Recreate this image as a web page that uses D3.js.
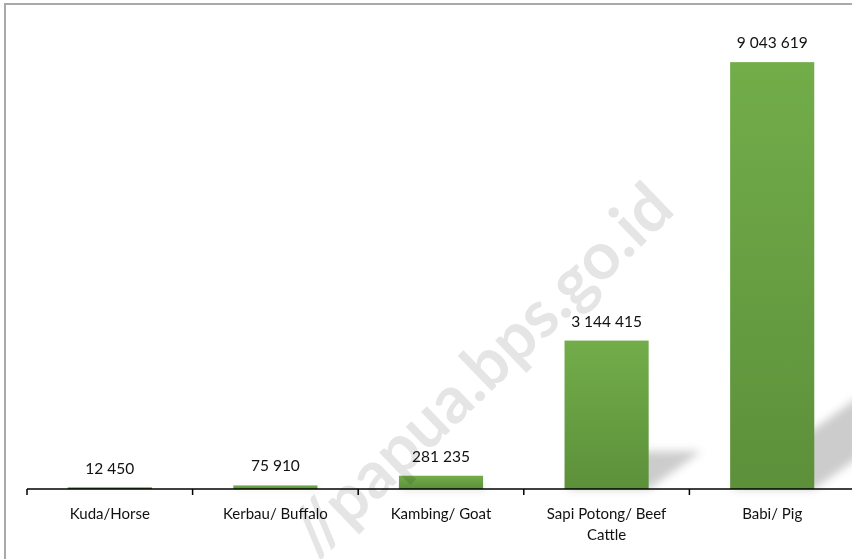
<!DOCTYPE html>
<html>
<head>
<meta charset="utf-8">
<script src="https://cdn.jsdelivr.net/npm/d3@7"></script>
<style>
  html, body { margin: 0; padding: 0; background: #fff; }
  svg { display: block; }
  text { font-family: Lato, "Open Sans", sans-serif; }
</style>
</head>
<body>
<svg id="chart" width="852" height="559"></svg>
<script>
// data
const categories = ['Kuda/Horse', 'Kerbau/ Buffalo', 'Kambing/ Goat', 'Sapi Potong/ Beef Cattle', 'Babi/ Pig']
const values = [12450, 75910, 281235, 3144415, 9043619]
const yMax = 10000000

const width = 852,
  height = 559,
  margin = {left: 27, right: -3, top: 17, bottom: 70}

const svg = d3.select('#chart')
const defs = svg.append('defs')

// bar fill, lighter at the top
const grad = defs.append('linearGradient')
  .attr('id', 'barFill')
  .attr('x1', 0).attr('y1', 0).attr('x2', 0).attr('y2', 1)
grad.append('stop').attr('offset', '0%').attr('stop-color', '#72ad4a')
grad.append('stop').attr('offset', '100%').attr('stop-color', '#5c903a')

defs.append('filter')
  .attr('id', 'soft')
  .attr('x', '-50%').attr('y', '-50%').attr('width', '200%').attr('height', '200%')
  .append('feGaussianBlur')
  .attr('stdDeviation', 4)

const x = d3.scaleBand()
  .domain(categories)
  .range([margin.left, width - margin.right])
  .paddingInner(0.492)
  .paddingOuter(0.246)

const y = d3.scaleLinear()
  .domain([0, yMax])
  .range([height - margin.bottom, margin.top])

const fmt = d3.formatLocale({
  decimal: ',',
  thousands: ' ',
  grouping: [3],
  currency: ['', '']
}).format(',d')

// frame (only top and left edges are inside the picture)
svg.append('path')
  .attr('d', `M5,${height + 5}V4H${width + 5}`)
  .attr('fill', 'none')
  .attr('stroke', '#a9a9a9')
  .attr('stroke-width', 2)

const base = y(0)

// perspective shadows behind the bars
svg.append('g')
  .attr('filter', 'url(#soft)')
  .selectAll('path')
  .data(values)
  .join('path')
  .attr('d', (d, i) => {
    const h = base - y(d),
      x0 = x(categories[i]),
      x1 = x0 + x.bandwidth(),
      dx = h * 0.356,
      top = base - h * 0.255
    return `M${x0},${base}L${x0 + dx},${top}L${x1 + dx},${top}L${x1},${base}Z`
  })
  .attr('fill', '#000')
  .attr('opacity', 0.2)

// bars (tiny ones still show as a thin dark line)
svg.append('g')
  .selectAll('rect')
  .data(values)
  .join('rect')
  .attr('x', (d, i) => x(categories[i]))
  .attr('y', d => Math.min(y(d), base - 1.5))
  .attr('width', x.bandwidth())
  .attr('height', d => Math.max(base - y(d), 1.5))
  .attr('fill', d => (base - y(d) < 1.5 ? '#3f6b27' : 'url(#barFill)'))

// value labels
svg.append('g')
  .selectAll('text')
  .data(values)
  .join('text')
  .attr('x', (d, i) => x(categories[i]) + x.bandwidth() / 2)
  .attr('y', d => y(d) - 14)
  .attr('text-anchor', 'middle')
  .attr('font-size', 15.5)
  .attr('fill', '#111')
  .text(d => fmt(d))

// axis: line plus ticks between categories
const step = x.step()
const edges = d3.range(categories.length + 1).map(i => margin.left + i * step)
const axis = svg.append('g')
axis.append('line')
  .attr('x1', edges[0]).attr('x2', width)
  .attr('y1', base).attr('y2', base)
  .attr('stroke', '#000')
  .attr('stroke-width', 1.5)
axis.selectAll('.tick')
  .data(edges)
  .join('line')
  .attr('class', 'tick')
  .attr('x1', d => d).attr('x2', d => d)
  .attr('y1', base).attr('y2', base + 6)
  .attr('stroke', '#000')
  .attr('stroke-width', 1.5)

// category labels, wrapped to the band width
const labels = svg.append('g')
  .selectAll('text')
  .data(categories)
  .join('text')
  .attr('x', d => x(d) + x.bandwidth() / 2)
  .attr('y', base + 30)
  .attr('text-anchor', 'middle')
  .attr('font-size', 15)
  .attr('fill', '#111')
labels.each(function(d) {
  const el = d3.select(this),
    cx = +el.attr('x'),
    words = d.split(' '),
    lines = []
  let line = []
  words.forEach(w => {
    line.push(w)
    el.text(line.join(' '))
    if (this.getComputedTextLength() > step - 20 && line.length > 1) {
      line.pop()
      lines.push(line.join(' '))
      line = [w]
    }
  })
  lines.push(line.join(' '))
  el.text(null)
  lines.forEach((l, i) => {
    el.append('tspan').attr('x', cx).attr('dy', i ? 21 : 0).text(l)
  })
})

// site watermark
svg.append('text')
  .attr('transform', 'translate(677,212) rotate(-44)')
  .attr('text-anchor', 'end')
  .attr('font-family', '"Liberation Sans", Arial, sans-serif')
  .attr('font-weight', 'bold')
  .attr('font-size', 66)
  .attr('fill', '#000')
  .attr('opacity', 0.1)
  .text('//papua.bps.go.id')
</script>
</body>
</html>
